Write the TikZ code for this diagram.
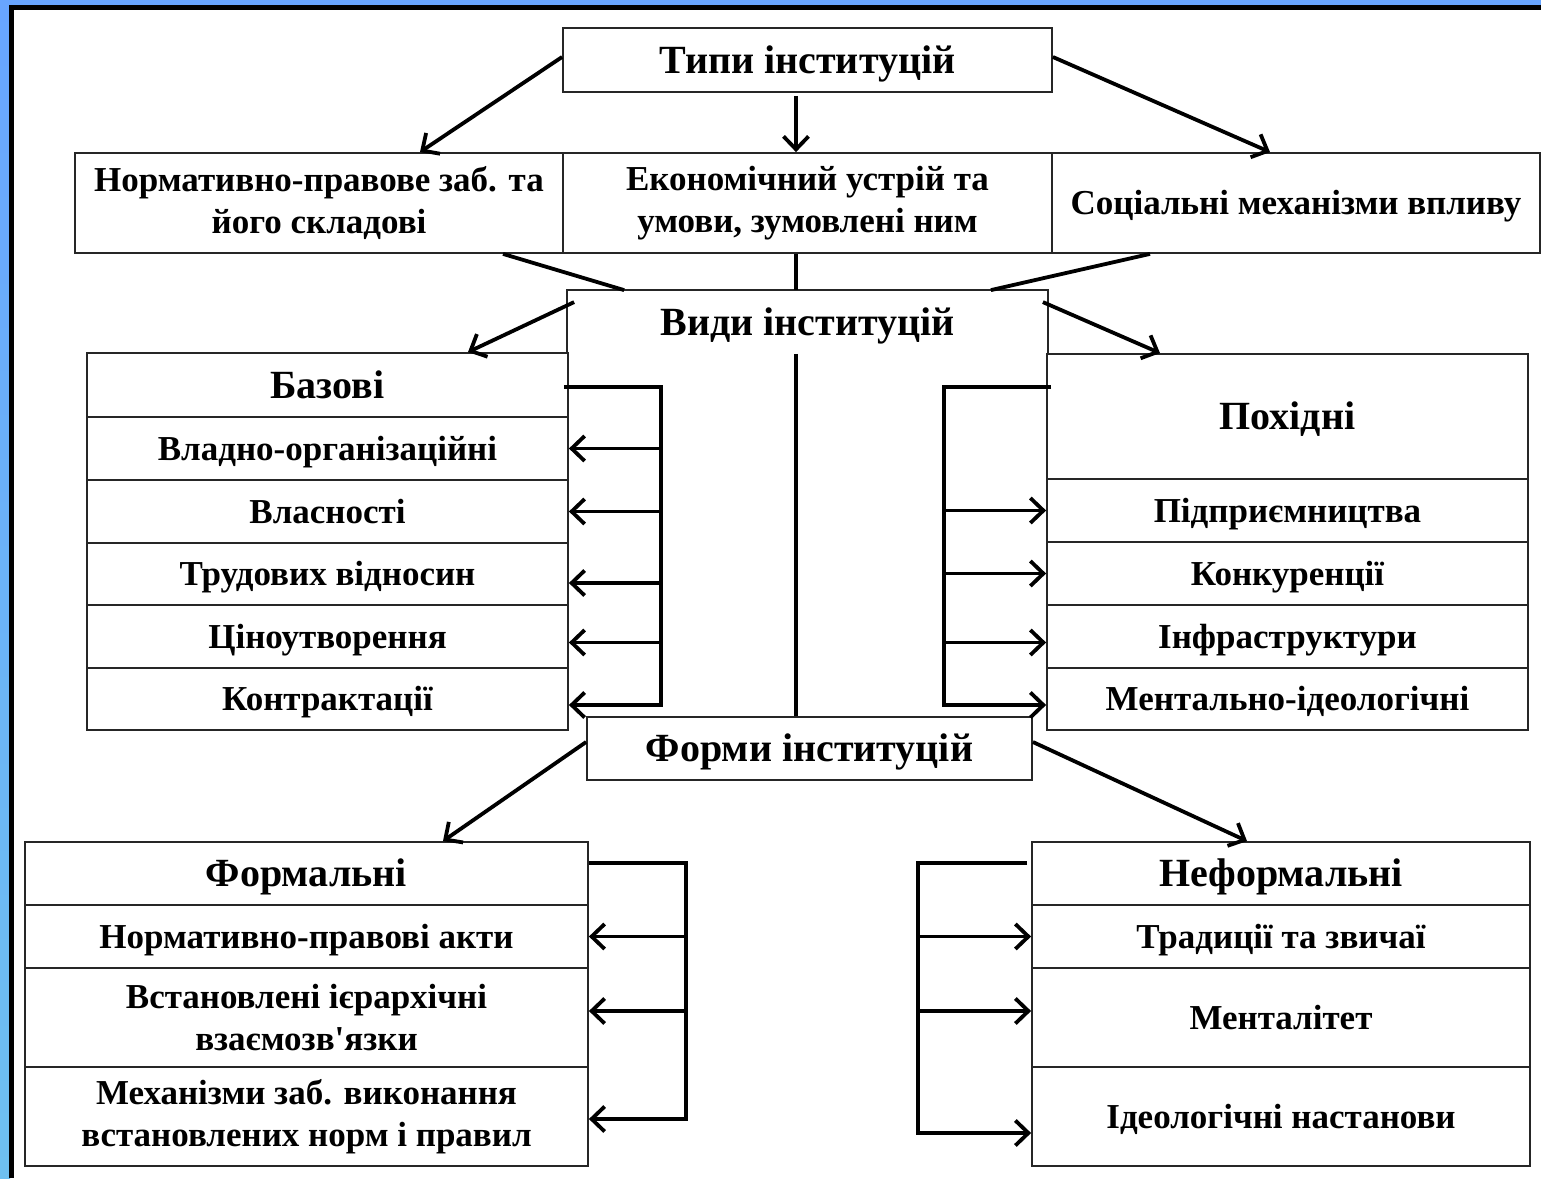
\documentclass[tikz,border=0pt]{standalone}
\usepackage{fontspec}
\setmainfont{Liberation Serif}
\usetikzlibrary{arrows.meta}

\definecolor{framebg}{RGB}{104,165,255}
\definecolor{stripmid}{RGB}{142,197,250}
\definecolor{stripbg}{RGB}{110,192,240}

\newcommand{\headfont}{\bfseries\fontsize{40}{44}\selectfont}
\newcommand{\itemfont}{\bfseries\fontsize{35}{42}\selectfont}

\tikzset{
    box/.style={draw=black!85, line width=1.8pt, inner sep=0pt, align=center, font=\itemfont},
    cell/.style={box, text height=23pt, text depth=0pt},
    pair/.style={box},
    head/.style={box, font=\headfont, text height=26.5pt, text depth=0pt},
    cell line/.style={draw=black!85, line width=1.8pt},
    link/.style={line width=3.8pt},
    arrow/.style={link, -{Straight Barb[length=13pt,width=25pt]}}
}

\begin{document}
\begin{tikzpicture}[x=1pt, y=-1pt]

    % Slide frame
    \useasboundingbox (0,0) rectangle (1541,1178);
    \fill[framebg] (0,0) rectangle (1541,1178);
    \shade[top color=framebg, middle color=stripmid, bottom color=stripbg] (0,0) rectangle (10,1178);
    \fill[white] (11.5,7.5) rectangle (1541,1178);
    \draw[line width=4.5pt] (11.5,1178) -- (11.5,7.5) -- (1541,7.5);

    % Types of institutions
    \node[head, minimum width=489pt, minimum height=64pt] (types) at (807.5,60) {Типи інституцій};
    \node[pair, minimum width=488pt, minimum height=100pt] (norm) at (319,203) {Нормативно-правове заб. та\\його складові};
    \node[pair, minimum width=489pt, minimum height=100pt] (econ) at (807.5,203) {Економічний устрій та\\умови, зумовлені ним};
    \node[cell, minimum width=488pt, minimum height=100pt] (soc) at (1296,203) {Соціальні механізми впливу};

    % Arrows down from the types
    \coordinate (axis) at (796,0);
    \draw[arrow] ([yshift=3]types.west) -- ([xshift=101]norm.north);
    \draw[arrow] ([yshift=-3]axis |- types.south) -- (axis |- econ.north);
    \draw[arrow] ([yshift=3]types.east) -- ([xshift=-26]soc.north);

    % Kinds of institutions (open box)
    \node[head, draw=none, minimum width=479pt, minimum height=62pt] (kinds) at (807.5,322) {Види інституцій};
    \draw[cell line] (kinds.south west) |- (kinds.north east) -- (kinds.south east);

    % Lines joining the types to the kinds
    \draw[link] ([xshift=184]norm.south) -- ([xshift=57]kinds.north west);
    \draw[link] (axis |- econ.south) -- (axis |- kinds.north);
    \draw[link] ([xshift=-146]soc.south) -- ([xshift=-57]kinds.north east);

    % Basic institutions
    \node[head, minimum width=481pt, minimum height=64pt] (bas0) at (327.5,385) {Базові};
    \node[cell, minimum width=481pt, minimum height=63pt] (bas1) at (327.5,448.5) {Владно-організаційні};
    \node[cell, minimum width=481pt, minimum height=63pt] (bas2) at (327.5,511.5) {Власності};
    \node[cell, minimum width=481pt, minimum height=62pt] (bas3) at (327.5,574) {Трудових відносин};
    \node[cell, minimum width=481pt, minimum height=63pt] (bas4) at (327.5,636.5) {Ціноутворення};
    \node[cell, minimum width=481pt, minimum height=62pt] (bas5) at (327.5,699) {Контрактації};

    % Derived institutions
    \node[head, minimum width=481pt, minimum height=125pt] (der0) at (1287.5,416.5) {Похідні};
    \node[cell, minimum width=481pt, minimum height=63pt] (der1) at (1287.5,510.5) {Підприємництва};
    \node[cell, minimum width=481pt, minimum height=63pt] (der2) at (1287.5,573.5) {Конкуренції};
    \node[cell, minimum width=481pt, minimum height=63pt] (der3) at (1287.5,636.5) {Інфраструктури};
    \node[cell, minimum width=481pt, minimum height=62pt] (der4) at (1287.5,699) {Ментально-ідеологічні};

    % Arrows from the kinds
    \draw[arrow] ([xshift=7,yshift=-12]kinds.north west) -- ([xshift=140.5]bas0.north);
    \draw[arrow] ([xshift=-5,yshift=-12]kinds.north east) -- ([xshift=-127.5]der0.north);

    % Forms of institutions
    \node[head, minimum width=445pt, minimum height=63pt] (forms) at (809.5,748.5) {Форми інституцій};
    \draw[link] (axis |- kinds.south) -- (axis |- forms.north);

    % Bracket to the basic ones
    \coordinate (lbus) at (661,0);
    \coordinate (btop) at ([yshift=-2]bas0.east);
    \coordinate (b3) at ([yshift=-9]bas3.east);
    \coordinate (b4) at ([yshift=-6]bas4.east);
    \coordinate (b5) at ([yshift=-6]bas5.east);
    \draw[arrow] ([xshift=-5]btop) -| (lbus |- b5) -- (b5);
    \draw[arrow] (lbus |- bas1.east) -- (bas1.east);
    \draw[arrow] (lbus |- bas2.east) -- (bas2.east);
    \draw[arrow] (lbus |- b3) -- (b3);
    \draw[arrow] (lbus |- b4) -- (b4);

    % Bracket to the derived ones
    \coordinate (rbus) at (944,0);
    \coordinate (d3) at ([yshift=-6]der3.west);
    \coordinate (d4) at ([yshift=-6]der4.west);
    \draw[arrow] ([xshift=5]der0.west |- btop) -| (rbus |- d4) -- (d4);
    \draw[arrow] (rbus |- der1.west) -- (der1.west);
    \draw[arrow] (rbus |- der2.west) -- (der2.west);
    \draw[arrow] (rbus |- d3) -- (d3);

    % Formal institutions
    \node[head, minimum width=563pt, minimum height=63pt] (form0) at (306.5,873.5) {Формальні};
    \node[cell, minimum width=563pt, minimum height=63pt] (form1) at (306.5,936.5) {Нормативно-правові акти};
    \node[pair, minimum width=563pt, minimum height=99pt] (form2) at (306.5,1017.5) {Встановлені ієрархічні\\взаємозв\textquotesingle язки};
    \node[pair, minimum width=563pt, minimum height=99pt] (form3) at (306.5,1116.5) {Механізми заб. виконання\\встановлених норм і правил};

    % Informal institutions
    \node[head, minimum width=498pt, minimum height=63pt] (inf0) at (1281,873.5) {Неформальні};
    \node[cell, minimum width=498pt, minimum height=63pt] (inf1) at (1281,936.5) {Традиції та звичаї};
    \node[cell, minimum width=498pt, minimum height=99pt] (inf2) at (1281,1017.5) {Менталітет};
    \node[cell, minimum width=498pt, minimum height=99pt] (inf3) at (1281,1116.5) {Ідеологічні настанови};

    % Arrows from the forms
    \draw[arrow] ([yshift=6.5]forms.west) -- ([xshift=136.5]form0.north);
    \draw[arrow] ([yshift=6.5]forms.east) -- ([xshift=-34]inf0.north);

    % Bracket to the formal ones
    \coordinate (lbus2) at (686,0);
    \coordinate (ftop) at ([yshift=10.5]form0.east);
    \coordinate (f2) at ([yshift=6.5]form2.east);
    \coordinate (f3) at ([yshift=-2.5]form3.east);
    \draw[arrow] (ftop) -| (lbus2 |- f3) -- (f3);
    \draw[arrow] (lbus2 |- form1.east) -- (form1.east);
    \draw[arrow] (lbus2 |- f2) -- (f2);

    % Bracket to the informal ones
    \coordinate (rbus2) at (918,0);
    \coordinate (i2) at ([yshift=6.5]inf2.west);
    \coordinate (i3) at ([yshift=-16.5]inf3.west);
    \draw[arrow] ([xshift=-4]inf0.west |- ftop) -| (rbus2 |- i3) -- (i3);
    \draw[arrow] (rbus2 |- inf1.west) -- (inf1.west);
    \draw[arrow] (rbus2 |- i2) -- (i2);

\end{tikzpicture}
\end{document}
